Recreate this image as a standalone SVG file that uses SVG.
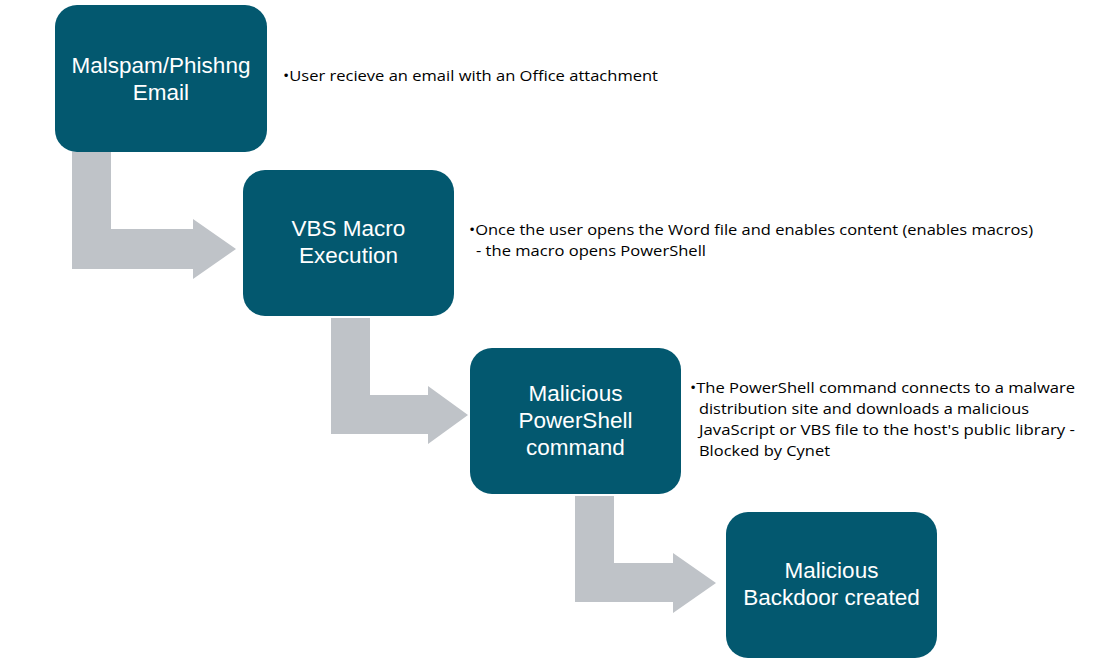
<svg xmlns="http://www.w3.org/2000/svg" width="1107" height="660" viewBox="0 0 1107 660">
<style>
.box{fill:#03586F}
.arr{fill:#BFC3C8}
.bt{font-family:"Liberation Sans",Arial,sans-serif;font-size:22.5px;fill:#FFFFFF;text-anchor:middle}
.nt{font-family:"Open Sans","Liberation Sans",Arial,sans-serif;font-size:15px;fill:#000000}
</style>
<rect width="1107" height="660" fill="#FFFFFF"/>
<g id="connectors">
<path class="arr" d="M72,152 H111 V229 H193 V219 L236,249 L193,279 V269 H72 Z"/>
<path class="arr" d="M331,318 H370 V395 H428 V386 L468,415 L428,444 V434 H331 Z"/>
<path class="arr" d="M575,496 H614 V563 H673 V553 L716,583 L673,613 V602 H575 Z"/>
</g>
<g id="node1">
<rect class="box" x="55" y="5" width="212" height="147" rx="22"/>
<text class="bt" x="161" y="73">Malspam/Phishng</text>
<text class="bt" x="161" y="100">Email</text>
</g>
<g id="node2">
<rect class="box" x="243" y="170" width="211" height="146" rx="22"/>
<text class="bt" x="348.5" y="236">VBS Macro</text>
<text class="bt" x="348.5" y="263">Execution</text>
</g>
<g id="node3">
<rect class="box" x="470" y="348" width="211" height="146" rx="22"/>
<text class="bt" x="575.5" y="401">Malicious</text>
<text class="bt" x="575.5" y="428">PowerShell</text>
<text class="bt" x="575.5" y="455">command</text>
</g>
<g id="node4">
<rect class="box" x="726" y="512" width="211" height="146" rx="22"/>
<text class="bt" x="831.5" y="578">Malicious</text>
<text class="bt" x="831.5" y="605">Backdoor created</text>
</g>
<g id="note1">
<text class="nt" x="283" y="81" textLength="375" lengthAdjust="spacingAndGlyphs">•User recieve an email with an Office attachment</text>
</g>
<g id="note2">
<text class="nt" x="469" y="235" textLength="564" lengthAdjust="spacingAndGlyphs">•Once the user opens the Word file and enables content (enables macros)</text>
<text class="nt" x="476" y="256" textLength="230" lengthAdjust="spacingAndGlyphs">- the macro opens PowerShell</text>
</g>
<g id="note3">
<text class="nt" x="690" y="393" textLength="385" lengthAdjust="spacingAndGlyphs">•The PowerShell command connects to a malware</text>
<text class="nt" x="699" y="414" textLength="330" lengthAdjust="spacingAndGlyphs">distribution site and downloads a malicious</text>
<text class="nt" x="699" y="435" textLength="376" lengthAdjust="spacingAndGlyphs">JavaScript or VBS file to the host's public library -</text>
<text class="nt" x="699" y="456" textLength="131" lengthAdjust="spacingAndGlyphs">Blocked by Cynet</text>
</g>
</svg>
